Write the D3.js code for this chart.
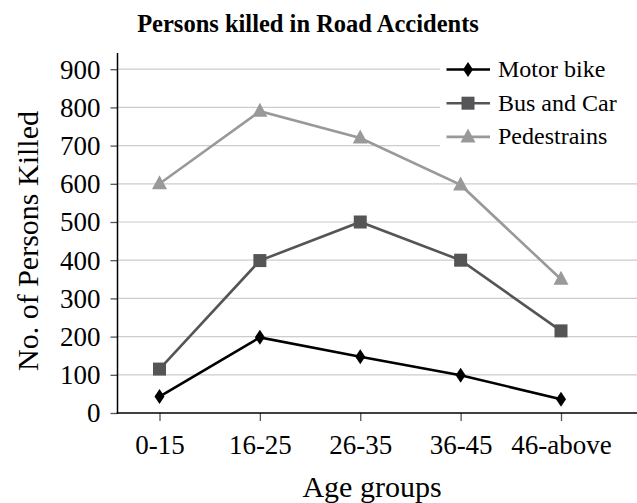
<!DOCTYPE html>
<html>
<head>
<meta charset="utf-8">
<script src="https://cdn.jsdelivr.net/npm/d3@7"></script>
</head>
<body style="margin:0">
<svg width="637" height="503" id="chart" style="font-family: 'Liberation Serif', serif"></svg>
<script>
'use strict';

var ageGroups = ['0-15', '16-25', '26-35', '36-45', '46-above'];
var motorBike = [43, 198, 147, 99, 36];
var busAndCar = [115, 399, 500, 400, 215];
var pedestrains = [600, 790, 720, 597, 350];
var yTicks = [0, 100, 200, 300, 400, 500, 600, 700, 800, 900];

var seriesNames = ['Motor bike', 'Bus and Car', 'Pedestrains'];
var seriesColors = ['#000000', '#555558', '#999999'];
var seriesMarks = ['diamond', 'square', 'triangle'];

var chart = {};
chart.w = 637;
chart.h = 503;
chart.left = 117.5;
chart.bottom = 413;
chart.top = 53;
chart.font = "'Liberation Serif', serif";

var svg = d3.select('#chart');

var x = d3.scalePoint().domain(ageGroups).range([159.5, 561]);
var y = d3.scaleLinear().domain([0, 900]).range([chart.bottom, 69.2]);

// grid
svg.append('g')
    .selectAll('line')
    .data(yTicks.slice(1))
    .enter()
    .append('line')
    .attr('x1', chart.left)
    .attr('x2', chart.w)
    .attr('y1', function(d){ return y(d); })
    .attr('y2', function(d){ return y(d); })
    .attr('stroke', '#cccccc')
    .attr('stroke-width', 1.2);

// axes
var yAxis = d3.axisLeft(y).tickValues(yTicks).tickSize(7).tickPadding(10);
var yg = svg.append('g')
    .attr('transform', 'translate(' + chart.left + ',0)')
    .call(yAxis)
    .attr('font-family', null)
    .attr('font-size', null);
yg.select('.domain').remove();
yg.selectAll('.tick line').attr('stroke', '#555').attr('stroke-width', 1.3);
yg.selectAll('.tick text')
    .style('font-family', chart.font)
    .style('font-size', '27px')
    .attr('fill', '#000')
    .attr('dy', '0.33em');

var xAxis = d3.axisBottom(x).tickSize(8).tickPadding(14);
var xg = svg.append('g')
    .attr('transform', 'translate(0,' + chart.bottom + ')')
    .call(xAxis)
    .attr('font-family', null)
    .attr('font-size', null);
xg.select('.domain').remove();
xg.selectAll('.tick line').attr('stroke', '#555').attr('stroke-width', 1.3);
xg.selectAll('.tick text')
    .style('font-family', chart.font)
    .style('font-size', '27px')
    .attr('fill', '#000')
    .attr('dy', '0.71em');

svg.append('line')
    .attr('x1', chart.left).attr('x2', chart.left)
    .attr('y1', chart.top).attr('y2', chart.bottom + 0.75)
    .attr('stroke', '#000').attr('stroke-width', 1.5);
svg.append('line')
    .attr('x1', chart.left - 0.75).attr('x2', chart.w)
    .attr('y1', chart.bottom).attr('y2', chart.bottom)
    .attr('stroke', '#000').attr('stroke-width', 1.5);

// markers
function marker(g, type, color, cx, cy) {
    if (type === 'diamond') {
        g.append('path')
            .attr('d', 'M' + cx + ',' + (cy - 7.5) + 'L' + (cx + 5) + ',' + cy +
                  'L' + cx + ',' + (cy + 7.5) + 'L' + (cx - 5) + ',' + cy + 'Z')
            .attr('fill', color);
    } else if (type === 'square') {
        g.append('rect')
            .attr('x', cx - 6.5).attr('y', cy - 6.5)
            .attr('width', 13).attr('height', 13)
            .attr('fill', color);
    } else {
        g.append('path')
            .attr('d', 'M' + cx + ',' + (cy - 8.5) + 'L' + (cx + 7.5) + ',' + (cy + 5.5) +
                  'L' + (cx - 7.5) + ',' + (cy + 5.5) + 'Z')
            .attr('fill', color);
    }
}

var allSeries = [motorBike, busAndCar, pedestrains];
var line = d3.line()
    .x(function(d, i){ return x(ageGroups[i]); })
    .y(function(d){ return y(d); });

for (var s = allSeries.length - 1; s >= 0; s--) {
    var g = svg.append('g');
    g.append('path')
        .datum(allSeries[s])
        .attr('d', line)
        .attr('fill', 'none')
        .attr('stroke', seriesColors[s])
        .attr('stroke-width', 2.6);
    for (var i = 0; i < ageGroups.length; i++) {
        marker(g, seriesMarks[s], seriesColors[s], x(ageGroups[i]), y(allSeries[s][i]));
    }
}

// legend
var legend = svg.append('g');
legend.append('rect')
    .attr('x', 440).attr('y', 52)
    .attr('width', chart.w - 440).attr('height', 100)
    .attr('fill', '#fff');
for (var k = 0; k < seriesNames.length; k++) {
    var ly = 69.5 + k * 33.7;
    legend.append('line')
        .attr('x1', 446.5).attr('x2', 490)
        .attr('y1', ly).attr('y2', ly)
        .attr('stroke', seriesColors[k])
        .attr('stroke-width', 2.6);
    marker(legend, seriesMarks[k], seriesColors[k], 468, ly);
    legend.append('text')
        .attr('x', 498)
        .attr('y', ly + 7.5)
        .style('font-family', chart.font)
        .style('font-size', '24px')
        .text(seriesNames[k]);
}

// titles
svg.append('text')
    .attr('x', 308)
    .attr('y', 32)
    .attr('text-anchor', 'middle')
    .style('font-family', chart.font)
    .style('font-size', '24.5px')
    .style('font-weight', 'bold')
    .text('Persons killed in Road Accidents');

svg.append('text')
    .attr('x', 372)
    .attr('y', 497)
    .attr('text-anchor', 'middle')
    .style('font-family', chart.font)
    .style('font-size', '30px')
    .text('Age groups');

svg.append('text')
    .attr('transform', 'translate(38,241) rotate(-90)')
    .attr('text-anchor', 'middle')
    .style('font-family', chart.font)
    .style('font-size', '30px')
    .text('No. of Persons Killed');
</script>
</body>
</html>
